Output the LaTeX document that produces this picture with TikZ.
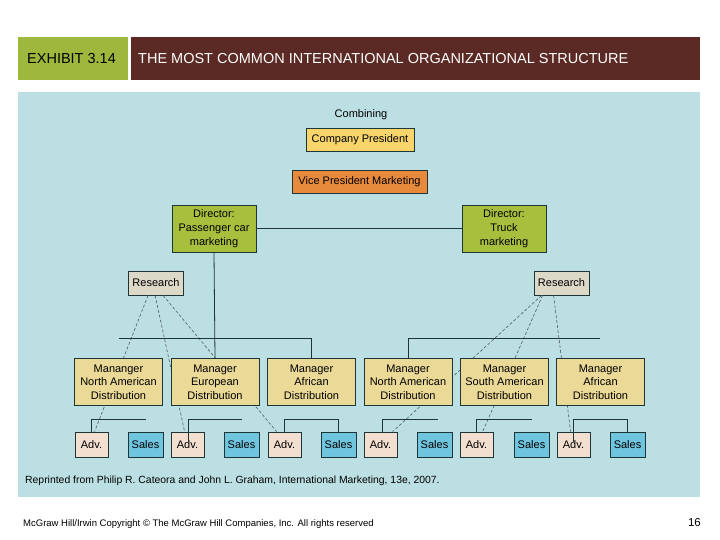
\documentclass[tikz,border=0pt]{standalone}
\usepackage{fontspec}
\setmainfont{Liberation Sans}
\usetikzlibrary{calc}
\definecolor{hgreen}{HTML}{9DB83C}
\definecolor{hbrown}{HTML}{5C2A24}
\definecolor{panel}{HTML}{BCDFE3}
\definecolor{cpres}{HTML}{F8D56B}
\definecolor{vpor}{HTML}{E88A3C}
\definecolor{dirg}{HTML}{A8BF3E}
\definecolor{resc}{HTML}{DDD9C8}
\definecolor{mgrc}{HTML}{EBD997}
\definecolor{advc}{HTML}{F3DFD0}
\definecolor{salc}{HTML}{6FC5DD}
\definecolor{lnc}{HTML}{1E3538}
\tikzset{
  box/.style={draw=lnc, line width=0.8pt, inner sep=0pt, align=center, text=black,
     font=\fontsize{11}{13.5}\selectfont},
  mgr/.style={box, fill=mgrc, minimum width=88pt, minimum height=47pt},
  dirbox/.style={box, fill=dirg, minimum width=84pt, minimum height=47pt, font=\fontsize{11}{14}\selectfont},
  resbox/.style={box, fill=resc, minimum width=55pt, minimum height=24pt},
  advbox/.style={box, fill=advc, minimum width=33pt, minimum height=25pt},
  salbox/.style={box, fill=salc, minimum width=35pt, minimum height=25pt},
  conn/.style={draw=lnc, line width=0.8pt},
  dotconn/.style={draw=lnc!80, line width=0.6pt, dash pattern=on 3pt off 2pt},
  hdr/.style={inner sep=0pt, anchor=west, font=\fontsize{14.5}{16}\selectfont}
}
\begin{document}
\begin{tikzpicture}[x=1pt,y=-1pt]
\useasboundingbox (0,0) rectangle (720,540);
\fill[white] (0,0) rectangle (720,540);
% header
\fill[hgreen] (18,37) rectangle (128,80);
\fill[hbrown] (131,37) rectangle (700,80);
\node[hdr, text=black] (exh) at (27,58.5) {EXHIBIT 3.14};
\node[hdr, text=white] (ttl) at (138,58.5) {THE MOST COMMON INTERNATIONAL ORGANIZATIONAL STRUCTURE};
% panel
\fill[panel] (18,92) rectangle (700,497);

\node[inner sep=0pt, font=\fontsize{11}{12}\selectfont] (comb) at (361,115) {Combining};
\node[box, fill=cpres, minimum width=108pt, minimum height=23pt] (pres) at (360,139.5) {Company President};
\node[box, fill=vpor, minimum width=135pt, minimum height=23pt] (vp) at (359.5,181.5) {Vice President Marketing};
\node[dirbox] (dirp) at (214,228.5) {Director:\\Passenger car\\marketing};
\node[dirbox] (dirt) at (504,228.5) {Director:\\Truck\\marketing};
\draw[conn] (dirp.east) -- (dirt.west);

\node[resbox] (resl) at (156,283) {Research};
\node[resbox] (resr) at (561.5,283) {Research};

% adv / sales
\node[advbox] (adv1) at (91.5,444.5) {Adv.};
\node[salbox] (sal1) at (145.5,444.5) {Sales};
\node[advbox] (adv2) at (187.5,444.5) {Adv.};
\node[salbox] (sal2) at (241.5,444.5) {Sales};
\node[advbox] (adv3) at (284.5,444.5) {Adv.};
\node[salbox] (sal3) at (338.5,444.5) {Sales};
\node[advbox] (adv4) at (380.5,444.5) {Adv.};
\node[salbox] (sal4) at (434.5,444.5) {Sales};
\node[advbox] (adv5) at (476.5,444.5) {Adv.};
\node[salbox] (sal5) at (531.5,444.5) {Sales};
\node[advbox] (adv6) at (573.5,444.5) {Adv.};
\node[salbox] (sal6) at (627.5,444.5) {Sales};

% dashed research lines (behind managers)
\draw[dotconn] ([xshift=20pt]resl.south west) -- ([xshift=20pt]adv1.north west);
\draw[dotconn] ([xshift=27pt]resl.south west) -- ([xshift=14pt]adv2.north west);
\draw[dotconn] ([xshift=35pt]resl.south west) -- ([xshift=9pt]adv3.north west);
\draw[dotconn] ([xshift=8pt]resr.south west) -- ([xshift=29pt]adv4.north west);
\draw[dotconn] ([xshift=9pt]resr.south west) -- ([xshift=23pt]adv5.north west);
\draw[dotconn] ([xshift=20pt]resr.south west) -- ([xshift=14pt]adv6.north west);

% managers
\node[mgr] (m1) at (118.5,382) {Mananger\\North American\\Distribution};
\node[mgr] (m2) at (215,382) {Manager\\European\\Distribution};
\node[mgr] (m3) at (311.5,382) {Manager\\African\\Distribution};
\node[mgr] (m4) at (408,382) {Manager\\North American\\Distribution};
\node[mgr] (m5) at (504.5,382) {Manager\\South American\\Distribution};
\node[mgr] (m6) at (600.5,382) {Manager\\African\\Distribution};

% solid hierarchy
\coordinate (barL) at (119,338);
\coordinate (barR) at (600,338);
\draw[conn] (dirp.south) -- (m2.north);
\draw[conn] (barL) -- (m3.north |- barL) -- (m3.north);
\draw[conn] (barR) -- (m4.north |- barR) -- (m4.north);

% brackets below managers
\coordinate (b1) at (146,419);
\coordinate (b2) at (242,419);
\coordinate (b4) at (438,419);
\coordinate (b5) at (532,419);
\draw[conn] ([xshift=-0.5pt]adv1.north) -- ([xshift=-0.5pt]adv1.north |- b1) -- (b1);
\draw[conn] ([xshift=0.5pt,yshift=-10pt]adv2.north) -- ([xshift=0.5pt]adv2.north |- b2) -- (b2);
\draw[conn] (adv3.north) -- (adv3.north |- b1) -- (sal3.north |- b1) -- (sal3.north);
\draw[conn] ([xshift=1.5pt]adv4.north) -- ([xshift=1.5pt]adv4.north |- b4) -- (b4);
\draw[conn] (adv5.north) -- (adv5.north |- b5) -- (b5);
\draw[conn] ([yshift=-10pt]adv6.north) -- (adv6.north |- b5) -- ([xshift=-0.5pt]sal6.north |- b5) -- ([xshift=-0.5pt]sal6.north);

% footer texts
\node[inner sep=0pt, anchor=west, font=\fontsize{10.4}{12}\selectfont] (src) at (25,481) {Reprinted from Philip R. Cateora and John L. Graham, International Marketing, 13e, 2007.};
\node[inner sep=0pt, anchor=west, font=\fontsize{9.5}{11}\selectfont] (copy) at (23,524) {McGraw Hill/Irwin Copyright © The McGraw Hill Companies, Inc. All rights reserved};
\node[inner sep=0pt, anchor=east, font=\fontsize{11.5}{13}\selectfont] (pg) at (701,523) {16};
\end{tikzpicture}
\end{document}
